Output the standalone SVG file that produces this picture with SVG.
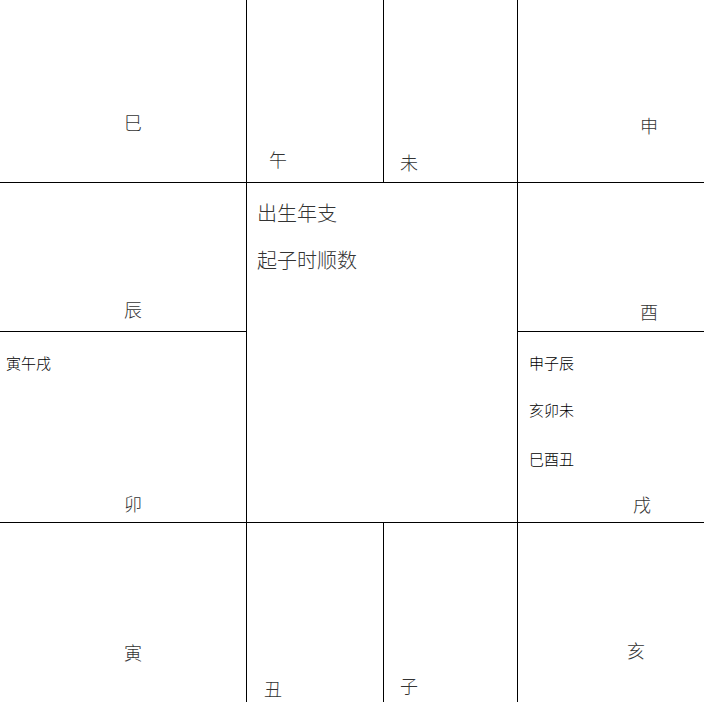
<svg xmlns="http://www.w3.org/2000/svg" width="704" height="702" viewBox="0 0 704 702">
<style>
.l{stroke:#000;stroke-width:1;fill:none}
.b{font-family:"Noto Sans CJK SC",sans-serif;font-size:18px;font-weight:300;fill:#333}
.m{font-family:"Noto Sans CJK SC",sans-serif;font-size:20px;font-weight:300;fill:#333}
.s{font-family:"Noto Sans CJK SC",sans-serif;font-size:15px;font-weight:300;fill:#000}
</style>
<rect width="704" height="702" fill="#fff"/>
<g id="grid">
<path class="l" d="M246.5 0V702M517.5 0V702M383.5 0V182M383.5 522V702M0 182.5H704M0 522.5H704M0 331.5H246M517 331.5H704"/>
</g>
<g id="n-si"><text class="b" x="133" y="130" text-anchor="middle">巳</text></g>
<g id="n-wu"><text class="b" x="278" y="167" text-anchor="middle">午</text></g>
<g id="n-wei"><text class="b" x="409" y="170" text-anchor="middle">未</text></g>
<g id="n-shen"><text class="b" x="649" y="133" text-anchor="middle">申</text></g>
<g id="n-chen"><text class="b" x="133" y="317" text-anchor="middle">辰</text></g>
<g id="n-you"><text class="b" x="649" y="319" text-anchor="middle">酉</text></g>
<g id="n-mao"><text class="b" x="133" y="511" text-anchor="middle">卯</text></g>
<g id="n-xu"><text class="b" x="642" y="512" text-anchor="middle">戌</text></g>
<g id="n-yin"><text class="b" x="133" y="660" text-anchor="middle">寅</text></g>
<g id="n-chou"><text class="b" x="273" y="696" text-anchor="middle">丑</text></g>
<g id="n-zi"><text class="b" x="409" y="693" text-anchor="middle">子</text></g>
<g id="n-hai"><text class="b" x="636" y="658" text-anchor="middle">亥</text></g>
<g id="center">
<text class="m" x="257" y="221">出生年支</text>
<text class="m" x="257" y="268">起子时顺数</text>
</g>
<g id="left-note"><text class="s" x="6" y="369">寅午戌</text></g>
<g id="right-note">
<text class="s" x="529" y="369">申子辰</text>
<text class="s" x="529" y="416">亥卯未</text>
<text class="s" x="529" y="465">巳酉丑</text>
</g>
</svg>
